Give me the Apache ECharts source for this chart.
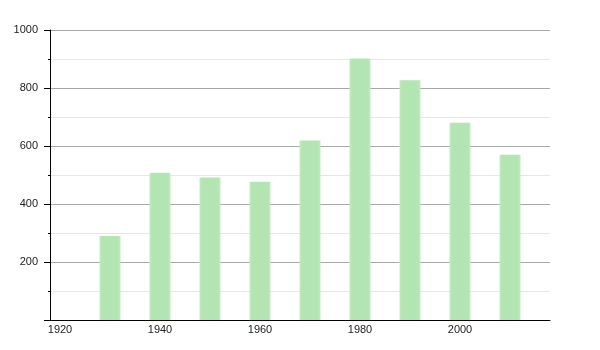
<!DOCTYPE html>
<html>
<head>
<meta charset="utf-8">
<script src="https://cdn.jsdelivr.net/npm/echarts@6/dist/echarts.min.js"></script>
<style>
html,body{margin:0;padding:0;background:#fff;}
#chart{width:600px;height:350px;}
</style>
</head>
<body>
<div id="chart"></div>
<script>
var years = [1930, 1940, 1950, 1960, 1970, 1980, 1990, 2000, 2010];
var population = [290, 508, 491, 477, 619, 902, 827, 680, 570];
var xTickLabels = [1920, 1940, 1960, 1980, 2000];
var yTickLabels = [200, 400, 600, 800, 1000];

var chart = echarts.init(document.getElementById('chart'), null, {renderer: 'canvas'});
var font = '"Liberation Sans", Arial, sans-serif';
chart.setOption({
  animation: false,
  backgroundColor: '#ffffff',
  grid: {left: 50, right: 50, top: 30, bottom: 30, containLabel: false},
  xAxis: {
    type: 'value',
    min: 1918,
    max: 2018,
    axisLine: {show: true, onZero: false, lineStyle: {color: '#000', width: 1}},
    axisTick: {show: false},
    splitLine: {show: false},
    axisLabel: {
      customValues: xTickLabels,
      color: '#222',
      fontSize: 11,
      fontFamily: font,
      margin: 4,
      formatter: function (v) { return String(v); }
    }
  },
  yAxis: {
    type: 'value',
    min: 0,
    max: 1000,
    interval: 200,
    axisLine: {show: true, lineStyle: {color: '#000', width: 1}},
    axisTick: {show: true, length: 6, lineStyle: {color: '#000'}},
    minorTick: {show: true, splitNumber: 2, length: 2, lineStyle: {color: '#000'}},
    splitLine: {show: true, lineStyle: {color: '#a8a8a8', width: 1}},
    minorSplitLine: {show: true, lineStyle: {color: '#e6e6e6', width: 1}},
    axisLabel: {
      color: '#222',
      fontSize: 11,
      fontFamily: font,
      margin: 12,
      showMinLabel: false,
      formatter: function (v) { return yTickLabels.indexOf(v) >= 0 ? String(v) : ''; }
    }
  },
  series: [{
    type: 'bar',
    barWidth: 21,
    data: years.map(function (y, i) { return [y, population[i]]; }),
    itemStyle: {
      color: {
        type: 'linear', x: 0, y: 0, x2: 1, y2: 0,
        colorStops: [
          {offset: 0, color: '#c4ebc4'},
          {offset: 0.12, color: '#b2e5b2'},
          {offset: 0.88, color: '#b2e5b2'},
          {offset: 1, color: '#c4ebc4'}
        ]
      }
    },
    z: 3
  }]
});
</script>
</body>
</html>
